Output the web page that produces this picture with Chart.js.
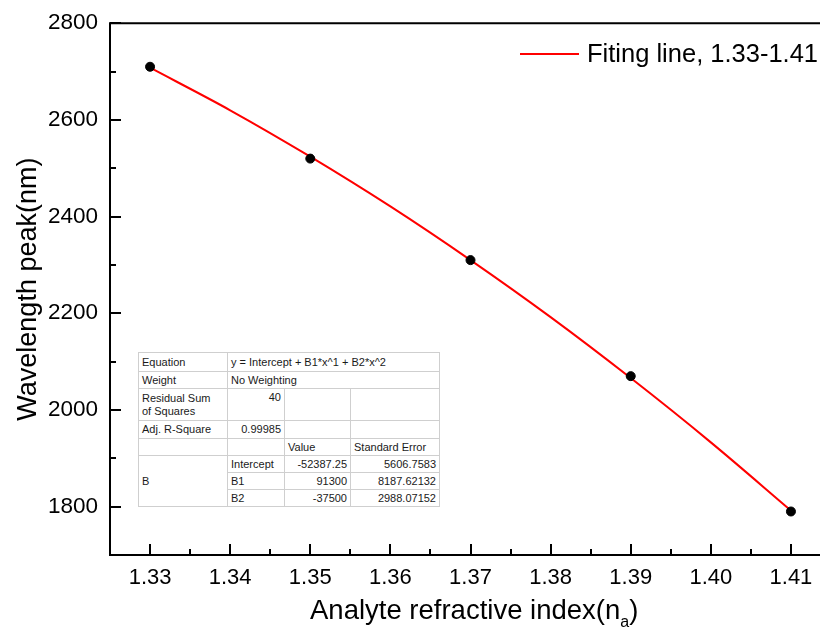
<!DOCTYPE html>
<html>
<head>
<meta charset="utf-8">
<script src="https://cdn.jsdelivr.net/npm/chart.js"></script>
<style>
  html, body { margin: 0; padding: 0; background: #fff; overflow: hidden; }
  body { width: 820px; height: 639px; position: relative; font-family: Arial, "Liberation Sans", sans-serif; }
  #plot { position: absolute; left: 0; top: 0; }
  #legend { position: absolute; left: 520px; top: 41px; white-space: nowrap; font-size: 25.5px; line-height: 1; color: #000; }
  #legend .swatch { position: absolute; left: 0; top: 12px; width: 59px; height: 2px; background: #ff0000; }
  #legend .label { position: absolute; left: 67px; top: 0; }
  #xtitle { position: absolute; left: 310px; top: 596px; font-size: 27.5px; line-height: 1; white-space: nowrap; color: #000; }
  #xtitle sub { font-size: 16px; vertical-align: baseline; position: relative; top: 8px; }
  #stats { position: absolute; left: 138px; top: 352px; border-collapse: collapse; font-size: 11px; color: #1a1a1a;
           background: #fff; border: 1px solid #666; table-layout: fixed; width: 301px; }
  #stats td { border: 1px solid #cfcfcf; padding: 0 3px; line-height: 13px; overflow: hidden; white-space: nowrap; vertical-align: middle; }
  #stats td.num { text-align: right; }
  #stats td.top { vertical-align: top; padding-top: 2px; }
</style>
</head>
<body>
<canvas id="plot" width="850" height="639"></canvas>

<div id="legend"><span class="swatch"></span><span class="label">Fiting line, 1.33-1.41</span></div>
<div id="xtitle">Analyte refractive index(n<sub>a</sub>)</div>

<table id="stats">
  <colgroup><col style="width:89px"><col style="width:57px"><col style="width:66px"><col style="width:89px"></colgroup>
  <tbody id="statsBody"></tbody>
</table>

<script>
// measured peaks
const nValues = [1.33, 1.35, 1.37, 1.39, 1.41];
const peakNm = [2710, 2520, 2310, 2070, 1790];

// quadratic fit evaluated across the range
const fitN = [1.33, 1.34, 1.35, 1.36, 1.37, 1.38, 1.39, 1.40, 1.41];
const fitNm = [2708, 2620, 2524, 2421, 2310, 2192, 2066, 1933, 1792];

// axes
const xTicks = [1.33, 1.34, 1.35, 1.36, 1.37, 1.38, 1.39, 1.40, 1.41];
const xMinor = [1.335, 1.345, 1.355, 1.365, 1.375, 1.385, 1.395, 1.405];
const yTicks = [1800, 2000, 2200, 2400, 2600, 2800];
const yMinor = [1700, 1900, 2100, 2300, 2500, 2700];

// fit summary
const equation = 'y = Intercept + B1*x^1 + B2*x^2';
const weighting = 'No Weighting';
const residualSS = '40';
const adjR2 = '0.99985';
const paramNames = ['Intercept', 'B1', 'B2'];
const paramValues = ['-52387.25', '91300', '-37500'];
const paramErrors = ['5606.7583', '8187.62132', '2988.07152'];

// build the stats table
let rows = '';
rows += '<tr style="height:19px"><td>Equation</td><td colspan="3">' + equation + '</td></tr>';
rows += '<tr style="height:17px"><td>Weight</td><td colspan="3">' + weighting + '</td></tr>';
rows += '<tr style="height:32px"><td>Residual Sum<br>of Squares</td><td class="num top">' + residualSS + '</td><td></td><td></td></tr>';
rows += '<tr style="height:18px"><td>Adj. R-Square</td><td class="num">' + adjR2 + '</td><td></td><td></td></tr>';
rows += '<tr style="height:17px"><td></td><td></td><td>Value</td><td>Standard Error</td></tr>';
paramNames.forEach(function(p, i) {
    rows += '<tr style="height:17px">' + (i === 0 ? '<td rowspan="3">B</td>' : '') +
        '<td>' + p + '</td><td class="num">' + paramValues[i] + '</td><td class="num">' + paramErrors[i] + '</td></tr>';
});
document.getElementById('statsBody').innerHTML = rows;

// box around the plot plus inward ticks
const frame = {
    id: 'frame',
    afterDraw(chart) {
        const ctx = chart.ctx;
        const a = chart.chartArea;
        const x = chart.scales.x, y = chart.scales.y;
        ctx.save();
        ctx.strokeStyle = '#000';
        ctx.lineWidth = 2;
        ctx.strokeRect(a.left, a.top, a.right - a.left, a.bottom - a.top);
        ctx.beginPath();
        xTicks.forEach(v => { const px = Math.round(x.getPixelForValue(v)); ctx.moveTo(px, a.bottom); ctx.lineTo(px, a.bottom - 11); });
        xMinor.forEach(v => { const px = Math.round(x.getPixelForValue(v)); ctx.moveTo(px, a.bottom); ctx.lineTo(px, a.bottom - 6); });
        yTicks.forEach(v => { const py = Math.round(y.getPixelForValue(v)); ctx.moveTo(a.left, py); ctx.lineTo(a.left + 11, py); });
        yMinor.forEach(v => { const py = Math.round(y.getPixelForValue(v)); ctx.moveTo(a.left, py); ctx.lineTo(a.left + 6, py); });
        ctx.stroke();
        ctx.restore();
    }
};

const font = 'Arial, "Liberation Sans", sans-serif';

const config = {
    type: 'scatter',
    data: {
        datasets: [
            {
                label: 'Measured',
                data: nValues.map((n, i) => ({x: n, y: peakNm[i]})),
                backgroundColor: '#000',
                borderColor: '#000',
                pointRadius: 4.5,
                pointHoverRadius: 4.5
            },
            {
                label: 'Fiting line, 1.33-1.41',
                data: fitN.map((n, i) => ({x: n, y: fitNm[i]})),
                showLine: true,
                borderColor: '#ff0000',
                borderWidth: 2,
                pointRadius: 0,
                cubicInterpolationMode: 'monotone'
            }
        ]
    },
    options: {
        responsive: false,
        animation: false,
        events: [],
        layout: { padding: { left: 0, top: 14, right: 19, bottom: 0 } },
        plugins: { legend: { display: false }, tooltip: { enabled: false } },
        scales: {
            x: {
                type: 'linear',
                min: 1.325,
                max: 1.415,
                afterBuildTicks: s => { s.ticks = xTicks.map(v => ({value: v})); },
                afterFit: s => { s.height = 84; },
                grid: { display: false, drawTicks: false },
                border: { display: false },
                ticks: { color: '#000', padding: 10, font: { family: font, size: 22 }, callback: v => v.toFixed(2), maxRotation: 0, autoSkip: false }
            },
            y: {
                type: 'linear',
                min: 1700,
                max: 2800,
                afterBuildTicks: s => { s.ticks = yTicks.map(v => ({value: v})); },
                afterFit: s => { s.width = 110; },
                grid: { display: false, drawTicks: false },
                border: { display: false },
                ticks: { color: '#000', padding: 12, font: { family: font, size: 22.5, lineHeight: 1 }, callback: v => String(v) },
                title: { display: true, text: 'Wavelength peak(nm)', color: '#000', padding: { top: 12 }, font: { family: font, size: 27 } }
            }
        }
    },
    plugins: [frame]
};

new Chart(document.getElementById('plot'), config);
</script>
</body>
</html>
